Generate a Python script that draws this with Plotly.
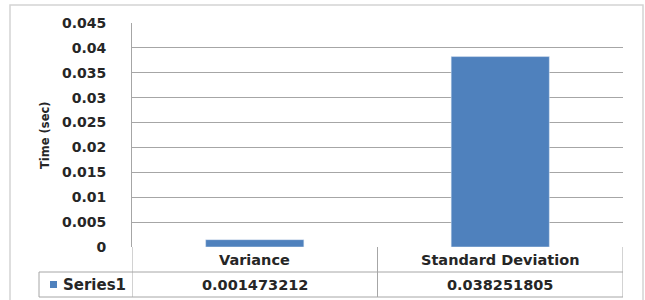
import plotly.graph_objects as go

# ---- data ----
categories = ["Variance", "Standard Deviation"]
series_name = "Series1"
values = [0.001473212, 0.038251805]
value_labels = ["0.001473212", "0.038251805"]
y_title = "Time (sec)"

W, H = 645, 300
L, R, T, B = 132, 22, 23, 53          # plot area in pixels
PW, PH = W - L - R, H - T - B
BAR = "#4F81BD"
GRID = "#A6A6A6"
TXT = "#262626"
FONT = "DejaVu Sans"


def px(xp):   # pixel x -> paper
    return (xp - L) / PW


def py(yp):   # pixel y -> paper
    return (H - B - yp) / PH


fig = go.Figure(go.Bar(x=categories, y=values, marker_color=BAR, width=0.4,
                       name=series_name, showlegend=False, hoverinfo="skip"))

row1_top, row1_bot, row2_bot = H - B, H - B + 25, H - B + 50
shapes = []
for yy, x0 in [(row1_bot, 39), (row2_bot, 39)]:
    shapes.append(dict(type="line", xref="paper", yref="paper", x0=px(x0), x1=1,
                       y0=py(yy), y1=py(yy), line=dict(color=GRID, width=1)))
shapes.append(dict(type="line", xref="paper", yref="paper", x0=px(39), x1=px(39),
                   y0=py(row1_bot), y1=py(row2_bot), line=dict(color=GRID, width=1)))
for i in range(len(categories) + 1):
    shapes.append(dict(type="line", xref="x", yref="paper", x0=i - 0.5, x1=i - 0.5,
                       y0=py(row1_top), y1=py(row2_bot), line=dict(color=GRID, width=1)))
shapes.append(dict(type="rect", xref="paper", yref="paper", x0=px(50), x1=px(57),
                   y0=py(281), y1=py(288), fillcolor=BAR, line=dict(width=0)))
shapes.append(dict(type="rect", xref="paper", yref="paper", x0=px(10), x1=px(643),
                   y0=py(5), y1=py(303), line=dict(color="#D4D4D4", width=1.5),
                   layer="below"))

bold = dict(family=FONT, color=TXT, weight="bold")
annotations = []
for i, (c, v) in enumerate(zip(categories, value_labels)):
    annotations.append(dict(x=i, xref="x", y=py((row1_top + row1_bot) / 2), yref="paper",
                            text=c, showarrow=False, font=dict(bold, size=14.5),
                            xanchor="center", yanchor="middle"))
    annotations.append(dict(x=i, xref="x", y=py((row1_bot + row2_bot) / 2), yref="paper",
                            text=v, showarrow=False, font=dict(bold, size=14.5),
                            xanchor="center", yanchor="middle"))
annotations.append(dict(x=px(61), xref="paper", y=py((row1_bot + row2_bot) / 2), yref="paper",
                        text=series_name, showarrow=False, xanchor="left", yanchor="middle",
                        font=dict(bold, size=15)))
annotations.append(dict(x=px(45), xref="paper", y=0.5, yref="paper", text=y_title,
                        textangle=-90, showarrow=False, xanchor="center", yanchor="middle",
                        font=dict(bold, size=11.5)))

fig.update_layout(
    width=W, height=H, margin=dict(l=L, r=R, t=T, b=B, autoexpand=False),
    paper_bgcolor="white", plot_bgcolor="white",
    shapes=shapes, annotations=annotations,
    xaxis=dict(range=[-0.5, 1.5], showticklabels=False, showgrid=False, zeroline=False,
               showline=False, fixedrange=True),
    yaxis=dict(range=[0, 0.045], dtick=0.005, tick0=0, showgrid=True, gridcolor=GRID,
               gridwidth=1, zeroline=False, showline=True, linecolor=GRID, linewidth=1,
               ticks="", ticklabelstandoff=22, fixedrange=True,
               tickfont=dict(bold, size=14)),
)

fig.write_html("out.html", config={"displayModeBar": False},
               post_script="document.body.style.margin='0';")
